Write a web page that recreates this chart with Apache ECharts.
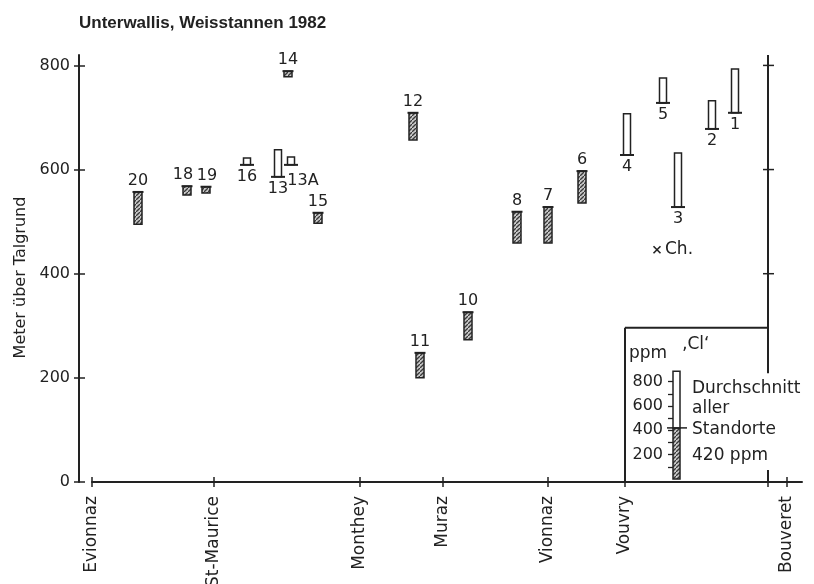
<!DOCTYPE html>
<html>
<head>
<meta charset="utf-8">
<script src="https://cdn.jsdelivr.net/npm/echarts@6/dist/echarts.min.js"></script>
<style>
html, body { margin: 0; padding: 0; background: #fff; }
#chart { width: 814px; height: 584px; }
</style>
</head>
<body>
<div id="chart"></div>
<script>
// places along the valley floor (x = distance, arbitrary units)
var places = ['Evionnaz', 'St-Maurice', 'Monthey', 'Muraz', 'Vionnaz', 'Vouvry', 'Bouveret'];
var placePos = [0, 12.2, 26.8, 35.1, 45.6, 53.3, 69.5];

// sampling sites: altitude above valley floor (m) and the other end of the Cl bar
// end below alt = below average (hatched), end above alt = above average (open)
var siteLabels = ['20', '18', '19', '16', '13', '13A', '14', '15', '12', '11', '10', '8', '7', '6', '4', '5', '3', '2', '1'];
var sitePos = [4.6, 9.5, 11.4, 15.5, 18.6, 19.9, 19.6, 22.6, 32.1, 32.8, 37.6, 42.5, 45.6, 49.0, 53.5, 57.1, 58.6, 62.0, 64.3];
var siteAlt = [557, 568, 567, 609, 586, 609, 789, 517, 709, 248, 326, 519, 528, 597, 628, 728, 528, 678, 709];
var siteEnd = [495, 551, 555, 622, 638, 624, 778, 497, 657, 200, 273, 459, 459, 536, 707, 776, 632, 732, 793];

// Chamoson reference point
var chPos = 56.5;
var chAlt = 446;

var altTicks = [0, 200, 400, 600, 800];
var altMax = 820;

// right frame and legend box (data units)
var frameX = 67.6;
var frameTicks = [400, 600, 800];
var frameGap = [23, 209];
var boxLeft = 53.3;
var boxTop = 296;

// legend scale in ppm
var ppmTicks = [100, 200, 300, 400, 500, 600, 700, 800];
var ppmLabels = [200, 400, 600, 800];
var legendBar = [0, 885];
var clAverage = 420;

var ink = '#222';
var font = '16px "DejaVu Sans"';
var bigFont = '17px "DejaVu Sans"';

function hatchCanvas() {
    var c = document.createElement('canvas');
    c.width = 4; c.height = 4;
    var g = c.getContext('2d');
    g.fillStyle = '#c8c8c8';
    g.fillRect(0, 0, 4, 4);
    g.strokeStyle = '#3a3a3a';
    g.lineWidth = 1.3;
    g.beginPath();
    g.moveTo(-1, 5); g.lineTo(5, -1);
    g.stroke();
    return c;
}
var hatch = { image: hatchCanvas(), repeat: 'repeat' };

var chart = echarts.init(document.getElementById('chart'));

var siteData = siteLabels.map(function (l, i) {
    return [sitePos[i], siteAlt[i], siteEnd[i]];
});

// small label nudges where the original sets them off-centre
var labelNudge = { '13A': [12, 4], '18': [-4, 0], '19': [1, 0] };

function renderSite(params, api) {
    var i = params.dataIndex;
    var x = api.value(0), a = api.value(1), e = api.value(2);
    var p0 = api.coord([x, a]);
    var p1 = api.coord([x, e]);
    var hatched = e < a;
    var w = hatched ? 8 : 7;
    var top = Math.min(p0[1], p1[1]);
    var h = Math.abs(p1[1] - p0[1]);
    var capHalf = hatched ? 5.5 : 7;
    var nudge = labelNudge[siteLabels[i]] || [0, 0];
    return {
        type: 'group',
        children: [
            {
                type: 'rect',
                shape: { x: p0[0] - w / 2, y: top, width: w, height: h },
                style: { fill: hatched ? hatch : '#fff', stroke: ink, lineWidth: 1.5 }
            },
            {
                type: 'line',
                shape: { x1: p0[0] - capHalf, y1: p0[1], x2: p0[0] + capHalf, y2: p0[1] },
                style: { stroke: ink, lineWidth: 2 }
            },
            {
                type: 'text',
                x: p0[0] + nudge[0],
                y: (hatched ? top - 3 : p0[1] + 4) + nudge[1],
                style: {
                    text: siteLabels[i], font: font, fill: ink,
                    align: 'center', verticalAlign: hatched ? 'bottom' : 'top'
                }
            }
        ]
    };
}

function renderFrame(params, api) {
    var line = function (a, b, wdt) {
        return { type: 'line', shape: { x1: a[0], y1: a[1], x2: b[0], y2: b[1] }, style: { stroke: ink, lineWidth: wdt || 2 } };
    };
    var kids = [
        line(api.coord([frameX, altMax]), api.coord([frameX, frameGap[1]])),
        line(api.coord([frameX, frameGap[0]]), api.coord([frameX, 0])),
        line(api.coord([boxLeft, boxTop]), api.coord([frameX, boxTop])),
        line(api.coord([boxLeft, boxTop]), api.coord([boxLeft, 0]))
    ];
    frameTicks.forEach(function (t) {
        var p = api.coord([frameX, t]);
        kids.push(line([p[0] - 5, p[1]], [p[0] + 6, p[1]], 1.5));
    });
    // Ch. cross
    var c = api.coord([chPos, chAlt]);
    kids.push(line([c[0] - 3.5, c[1] - 3.5], [c[0] + 3.5, c[1] + 3.5], 1.6));
    kids.push(line([c[0] - 3.5, c[1] + 3.5], [c[0] + 3.5, c[1] - 3.5], 1.6));
    kids.push({
        type: 'text', x: c[0] + 8, y: c[1],
        style: { text: 'Ch.', font: bigFont, fill: ink, align: 'left', verticalAlign: 'middle' }
    });
    return { type: 'group', children: kids };
}

function renderLegendBar(params, api) {
    var b0 = api.coord([0, legendBar[0]]);
    var b1 = api.coord([1, legendBar[1]]);
    var m = api.coord([0, clAverage]);
    return {
        type: 'group',
        children: [
            { type: 'rect', shape: { x: b0[0], y: m[1], width: b1[0] - b0[0], height: b0[1] - m[1] }, style: { fill: hatch, stroke: ink, lineWidth: 1.5 } },
            { type: 'rect', shape: { x: b0[0], y: b1[1], width: b1[0] - b0[0], height: m[1] - b1[1] }, style: { fill: '#fff', stroke: ink, lineWidth: 1.5 } },
            { type: 'line', shape: { x1: b0[0] - 6, y1: m[1], x2: b1[0] + 7, y2: m[1] }, style: { stroke: ink, lineWidth: 1.5 } }
        ]
    };
}

var legendTexts = [
    { text: 'ppm', x: 629, y: 354 },
    { text: '\u201aCl\u2018', x: 682, y: 345 },
    { text: 'Durchschnitt', x: 692, y: 389 },
    { text: 'aller', x: 692, y: 409 },
    { text: 'Standorte', x: 692, y: 430 },
    { text: '420 ppm', x: 692, y: 456 }
];

var option = {
    backgroundColor: '#fff',
    animation: false,
    title: {
        text: 'Unterwallis, Weisstannen 1982',
        left: 74,
        top: 10,
        textStyle: { fontFamily: 'Liberation Sans', fontWeight: 'bold', fontSize: 17, color: ink }
    },
    graphic: legendTexts.map(function (t) {
        return {
            type: 'text', x: t.x, y: t.y,
            style: { text: t.text, font: bigFont, fill: ink, align: 'left', verticalAlign: 'middle' }
        };
    }),
    grid: [
        { left: 92, right: 12, top: 55, bottom: 102, outerBoundsMode: 'none', containLabel: false },
        { left: 673, width: 7, top: 369.5, bottom: 105, outerBoundsMode: 'none', containLabel: false }
    ],
    xAxis: [
        {
            gridIndex: 0, type: 'value', min: 0, max: 71, position: 'bottom',
            splitLine: { show: false },
            axisLine: { onZero: false, lineStyle: { color: ink, width: 2 } },
            axisTick: { customValues: placePos.concat([frameX]), length: 5, lineStyle: { color: ink, width: 1.5 } },
            axisLabel: {
                customValues: placePos, rotate: 90, margin: 14,
                fontFamily: 'DejaVu Sans', fontSize: 17, color: ink,
                formatter: function (v) { return places[placePos.indexOf(v)]; }
            }
        },
        {
            gridIndex: 0, type: 'value', min: 0, max: 71, position: 'bottom',
            splitLine: { show: false },
            axisLine: { show: false, onZero: false },
            axisTick: { customValues: placePos.concat([frameX]), inside: true, length: 5, lineStyle: { color: ink, width: 1.5 } },
            axisLabel: { show: false }
        },
        { gridIndex: 1, type: 'value', min: 0, max: 1, show: false }
    ],
    yAxis: [
        {
            gridIndex: 0, type: 'value', min: 0, max: altMax, offset: 13, position: 'left',
            name: 'Meter über Talgrund', nameLocation: 'middle', nameGap: 50,
            nameTextStyle: { fontFamily: 'DejaVu Sans', fontSize: 16, color: ink, padding: [0, 0, 0, -18] },
            splitLine: { show: false },
            axisLine: { show: true, onZero: false, lineStyle: { color: ink, width: 2 } },
            axisTick: { show: true, customValues: altTicks, length: 5, lineStyle: { color: ink, width: 1.5 } },
            axisLabel: { customValues: altTicks, margin: 9, fontFamily: 'DejaVu Sans', fontSize: 16, color: ink }
        },
        {
            gridIndex: 0, type: 'value', min: 0, max: altMax, offset: 13, position: 'left',
            splitLine: { show: false },
            axisLine: { show: false, onZero: false },
            axisTick: { show: true, customValues: altTicks, inside: true, length: 6, lineStyle: { color: ink, width: 1.5 } },
            axisLabel: { show: false }
        },
        {
            gridIndex: 1, type: 'value', min: 0, max: 900, position: 'left',
            splitLine: { show: false },
            axisLine: { show: false, onZero: false },
            axisTick: { show: true, customValues: ppmTicks, length: 5, lineStyle: { color: ink, width: 1.3 } },
            axisLabel: { customValues: ppmLabels, margin: 10, fontFamily: 'DejaVu Sans', fontSize: 16, color: ink }
        }
    ],
    series: [
        {
            name: 'frame', type: 'custom', xAxisIndex: 0, yAxisIndex: 0,
            data: [[0, 0]], renderItem: renderFrame, silent: true, clip: false
        },
        {
            name: 'sites', type: 'custom', xAxisIndex: 0, yAxisIndex: 0,
            data: siteData, renderItem: renderSite, clip: false
        },
        {
            name: 'legend', type: 'custom', xAxisIndex: 2, yAxisIndex: 2,
            data: [[0, 0]], renderItem: renderLegendBar, silent: true, clip: false
        }
    ]
};

chart.setOption(option);
</script>
</body>
</html>
